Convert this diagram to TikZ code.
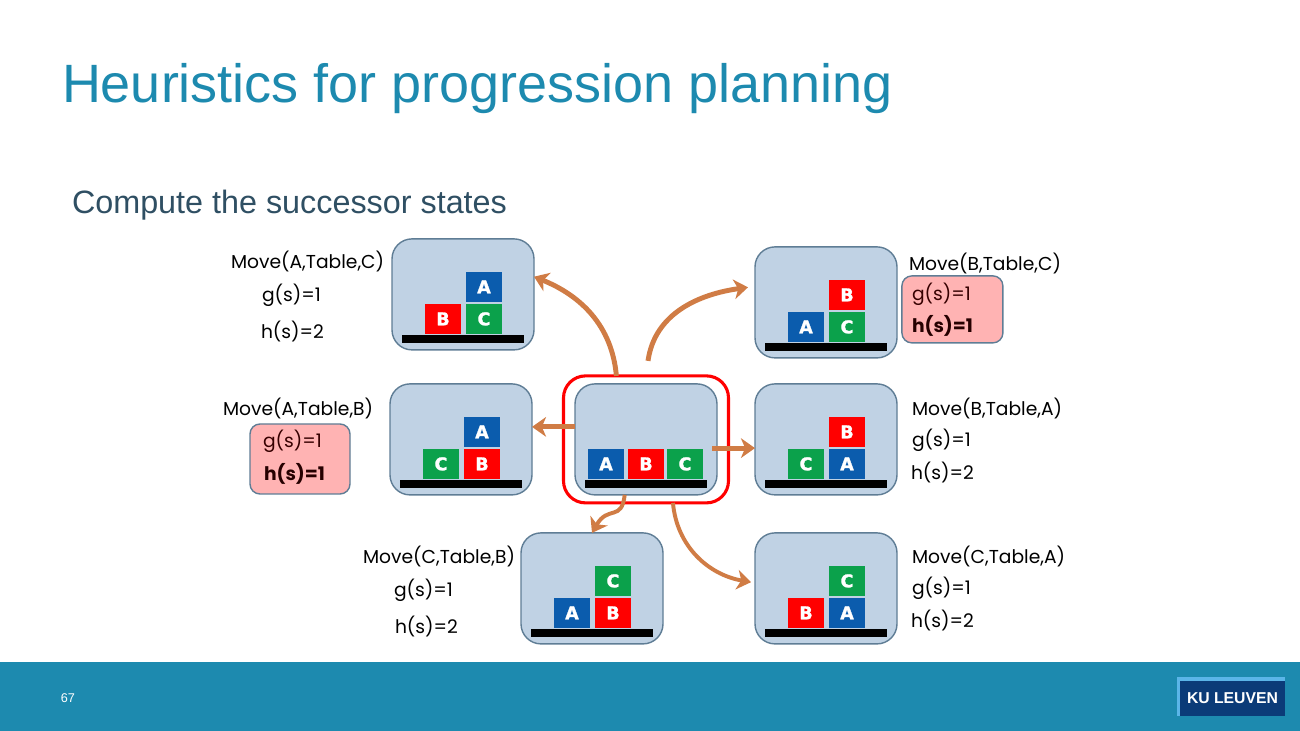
\documentclass[tikz,border=0pt]{standalone}
\usepackage{fontspec}
\setmainfont{Liberation Sans}
\newfontfamily\gothicfont{Poppins}
\newfontfamily\blockfont[BoldFont={DejaVu Sans Bold},BoldFeatures={FakeBold=1.5}]{DejaVu Sans}
\usetikzlibrary{arrows.meta, positioning, calc}
\definecolor{kublue}{HTML}{1D8AAF}
\definecolor{kunavy}{HTML}{0B3B78}
\definecolor{kulight}{HTML}{5BB5E8}
\definecolor{subtitlecol}{HTML}{2F4F63}
\definecolor{panelfill}{HTML}{C0D2E4}
\definecolor{paneledge}{HTML}{5F7D95}
\definecolor{pinkfill}{HTML}{FFB3B3}
\definecolor{arrowcol}{HTML}{D07C45}
\definecolor{blockblue}{HTML}{0B5CAD}
\definecolor{blockred}{HTML}{FF0000}
\definecolor{blockgreen}{HTML}{0BA14B}
\tikzset{
  statebox/.style={rectangle, rounded corners=0.5cm,
    minimum width=3.55cm, minimum height=2.775cm,
    draw=paneledge, line width=1pt, fill=panelfill},
  tablebar/.style={rectangle, inner sep=0pt,
    minimum width=3.05cm, minimum height=0.2cm, fill=black},
  stackblock/.style={rectangle, inner sep=0pt,
    minimum width=0.9cm, minimum height=0.75cm, text=white,
    font=\blockfont\bfseries\fontsize{12.5}{12.5}\selectfont},
  blockA/.style={stackblock, fill=blockblue},
  blockB/.style={stackblock, fill=blockred},
  blockC/.style={stackblock, fill=blockgreen},
  redframe/.style={rectangle, rounded corners=0.55cm,
    minimum width=4.125cm, minimum height=3.175cm,
    draw=red, line width=2.2pt},
  pinkbox/.style={rectangle, rounded corners=0.25cm,
    draw=paneledge, line width=1pt, fill=pinkfill},
  lbl/.style={anchor=west, inner sep=0pt, text=black,
    font=\gothicfont\fontsize{13.3}{15}\selectfont},
  lblpink/.style={lbl, text=black!65!red!60!black},
  lblbold/.style={lbl, text=black!85!red,
    font=\gothicfont\bfseries\fontsize{13.3}{15}\selectfont},
  arr/.style={-{Stealth[length=10pt, width=14pt, inset=3pt]},
    line width=3.5pt, draw=arrowcol},
  arrthin/.style={arr, line width=2.8pt},
}
% table and the three blocks of a state: left, right, top
\newcommand{\stackstate}[4]{
  \node (#1table) [tablebar, above=0.175cm of #1.south] {};
  \node (#1left) [block#2, above=0.025cm of #1table, xshift=-0.5cm] {#2};
  \node (#1right) [block#3, above=0.025cm of #1table, xshift=0.525cm] {#3};
  \node (#1top) [block#4, above=0.05cm of #1right] {#4};
}

\begin{document}
\begin{tikzpicture}[inner sep=0pt, outer sep=0pt]
\useasboundingbox (0,0) rectangle (32.5,18.275);

\node (band) [anchor=south west, minimum width=32.5cm, minimum height=1.725cm, fill=kublue] at (0,0) {};
\node (pagenum) [text=white, font=\fontsize{9}{9}\selectfont] at (1.7,0.82) {67};
\node (logoback) [anchor=south west, minimum width=2.7cm, minimum height=0.975cm, fill=kulight] at (29.425,0.375) {};
\node (logo) [anchor=south east, minimum width=2.625cm, minimum height=0.875cm, fill=kunavy,
  text=white, font=\bfseries\fontsize{11.2}{11.2}\selectfont] at (logoback.south east) {KU LEUVEN};

\node (title) [anchor=west, text=kublue, font=\fontsize{38.4}{38.4}\selectfont] at (1.55,16.05) {Heuristics for progression planning};
\node (subtitle) [anchor=west, text=subtitlecol, font=\fontsize{23}{23}\selectfont] at (1.8,13.15) {Compute the successor states};

% states
\node (current) [statebox] at (16.15,7.29) {};
\node (midleft) [statebox, left=1.075cm of current] {};
\node (midright) [statebox, right=0.95cm of current] {};
\node (topleft) [statebox, above=0.85cm of midleft, xshift=0.05cm] {};
\node (topright) [statebox, above=0.65cm of midright] {};
\node (botleft) [statebox, below=0.95cm of current, xshift=-1.35cm] {};
\node (botright) [statebox, below=0.95cm of midright] {};

\stackstate{topleft}{B}{C}{A}
\stackstate{topright}{A}{C}{B}
\stackstate{midleft}{C}{B}{A}
\stackstate{midright}{C}{A}{B}
\stackstate{botleft}{A}{B}{C}
\stackstate{botright}{B}{A}{C}

\node (currenttable) [tablebar, above=0.175cm of current.south] {};
\node (currentB) [blockB, above=0.025cm of currenttable] {B};
\node (currentA) [blockA, left=0.1cm of currentB] {A};
\node (currentC) [blockC, right=0.075cm of currentB] {C};

\node (frame) [redframe] at (current) {};

% labels
\node (pinkleft) [pinkbox, minimum width=2.5cm, minimum height=1.75cm] at (7.5,6.8) {};
\node (pinkright) [pinkbox, minimum width=2.525cm, minimum height=1.675cm] at (23.81,10.54) {};

\node (moveAC) [lbl] at (5.775,11.725) {Move(A,Table,C)};
\node (gAC) [lbl] at (6.55,10.9) {g(s)=1};
\node (hAC) [lbl] at (6.525,9.975) {h(s)=2};
\node (moveAB) [lbl] at (5.575,8.05) {Move(A,Table,B)};
\node (gAB) [lblpink] at (6.575,7.25) {g(s)=1};
\node (hAB) [lblbold] at (6.6,6.425) {h(s)=1};
\node (moveBC) [lbl] at (22.725,11.675) {Move(B,Table,C)};
\node (gBC) [lblpink] at (22.8,10.925) {g(s)=1};
\node (hBC) [lblbold] at (22.8,10.125) {h(s)=1};
\node (moveBA) [lbl] at (22.8,8.05) {Move(B,Table,A)};
\node (gBA) [lbl] at (22.8,7.275) {g(s)=1};
\node (hBA) [lbl] at (22.775,6.45) {h(s)=2};
\node (moveCB) [lbl] at (9.075,4.35) {Move(C,Table,B)};
\node (gCB) [lbl] at (9.85,3.525) {g(s)=1};
\node (hCB) [lbl] at (9.875,2.6) {h(s)=2};
\node (moveCA) [lbl] at (22.8,4.35) {Move(C,Table,A)};
\node (gCA) [lbl] at (22.8,3.575) {g(s)=1};
\node (hCA) [lbl] at (22.775,2.75) {h(s)=2};

% successor arrows
\coordinate (gapstart) at ($(frame.north)+(0.05,0.375)$);
\draw[arr] (frame.115) to[out=95, in=-22] (topleft.14);
\draw[arr] (gapstart) to[out=82, in=188] ([xshift=-0.175cm]topright.168);
\draw[arr] (current.170) -- (midleft.10);
\draw[arr, shorten <=-0.125cm] (current.-7) -- (midright.187);
\draw[arrthin] (current.249) .. controls +(-0.075,-0.675) and +(0.4,0.7) .. (botleft.north);
\draw[arrthin] (frame.293) to[out=-85, in=170] ([xshift=-0.1cm]botright.175);

\end{tikzpicture}
\end{document}
